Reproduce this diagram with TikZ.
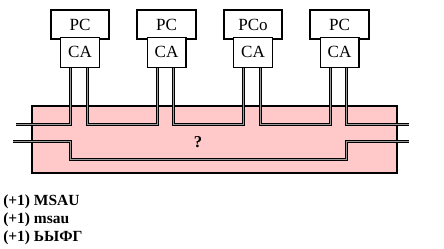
\documentclass[tikz,border=0pt]{standalone}
\usepackage{fontspec}
\setmainfont{Liberation Serif}
\usetikzlibrary{calc,positioning}
\definecolor{busfill}{RGB}{255,201,201}

\begin{document}
\begin{tikzpicture}[x=0.75pt, y=0.75pt,
  pcbox/.style={draw, line width=1.5pt, fill=white, inner sep=0pt,
    minimum width=44pt, minimum height=21.5pt, font=\fontsize{12.8}{13}\selectfont},
  cabox/.style={draw, line width=1pt, fill=white, inner sep=0pt,
    minimum width=29pt, minimum height=22.5pt, font=\fontsize{12.8}{13}\selectfont},
  wire/.style={draw=black, line width=0.75pt, double=black!40, double distance=0.75pt}]
  \useasboundingbox (0,0) rectangle (444,248);

  % the shared bus
  \draw[line width=1.6pt, fill=busfill] (32,75) rectangle (397,142);

  % stations
  \node[pcbox] (pc1) at (80,223.5) {PC};
  \node[pcbox] (pc2) at (166.5,223.5) {PC};
  \node[pcbox] (pc3) at (253,223.5) {PCo};
  \node[pcbox] (pc4) at (339.5,223.5) {PC};
  \foreach \i in {1,...,4} {
    \node[cabox, below=-2.5pt of pc\i] (ca\i) {CA};
    \coordinate (wl\i) at ($(ca\i.south)+(-9.5,0)$);
    \coordinate (wr\i) at ($(ca\i.south)+(7,0)$);
  }

  % line ends outside the bus
  \coordinate (inL1) at (16,124);
  \coordinate (inL2) at (13,107);
  \coordinate (outR1) at (409,124);
  \coordinate (outR2) at (409,107);
  \coordinate (lowlevel) at (200,89);

  % taps
  \draw[wire] (inL1) -| (wl1);
  \foreach \i/\j in {1/2,2/3,3/4}
    \draw[wire] (wr\i) -- (wr\i |- inL1) -| (wl\j);
  \draw[wire] (wr4) |- (outR1);
  \draw[wire] (inL2) -| (wl1 |- lowlevel) -- (wr4 |- lowlevel) |- (outR2);

  \node[font=\bfseries\fontsize{12.5}{13}\selectfont] (q) at (198,106) {?};

  % last line sits on the given baseline
  \node[anchor=base west, align=left, inner sep=0pt,
    font=\bfseries\fontsize{11.6}{13.2}\selectfont] (notes) at (3,7)
    {(+1) MSAU\\(+1) msau\\(+1) ЬЫФГ};
\end{tikzpicture}
\end{document}
